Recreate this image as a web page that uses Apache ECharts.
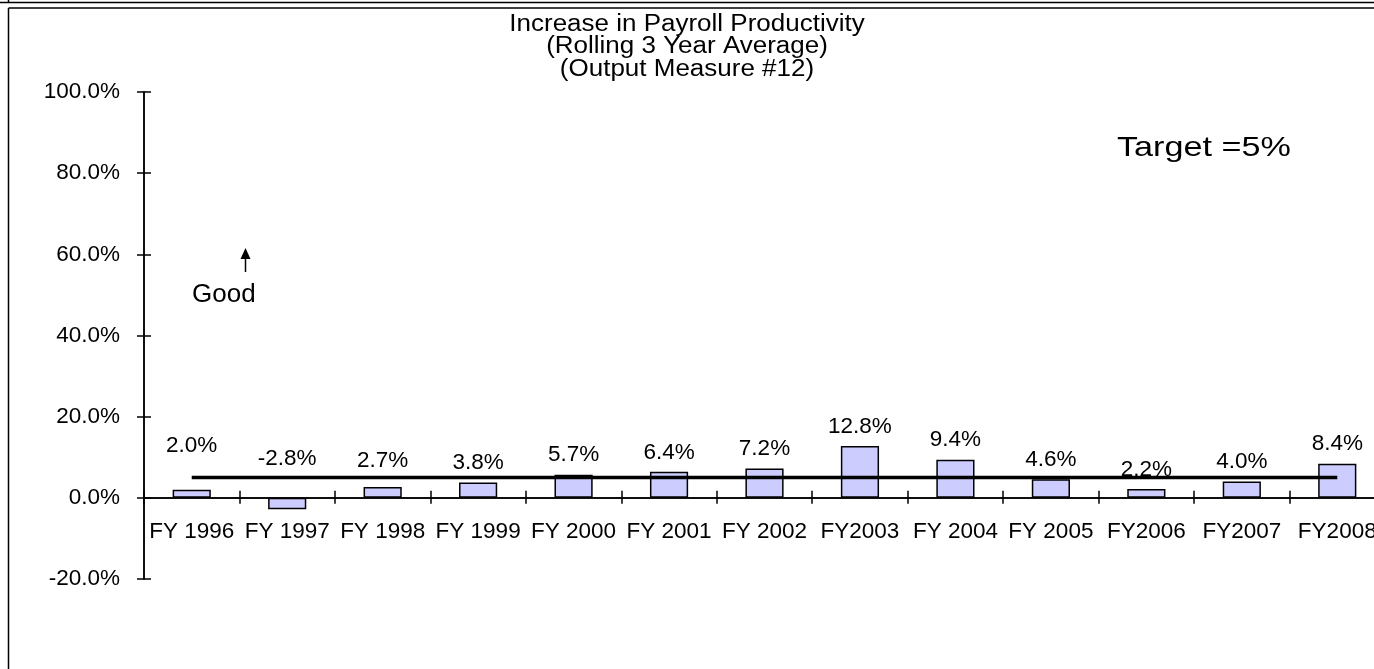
<!DOCTYPE html>
<html>
<head>
<meta charset="utf-8">
<script src="https://cdn.jsdelivr.net/npm/echarts@6/dist/echarts.min.js"></script>
<style>
  html, body { margin: 0; padding: 0; background: #ffffff; overflow: hidden; }
  /* the plot runs a little past the right edge of the window, so the canvas is wider */
  #chart { width: 1400px; height: 669px; }
</style>
</head>
<body>
<div id="chart"></div>
<script>
// Fiscal years on the category axis
const fiscalYears = ['FY 1996', 'FY 1997', 'FY 1998', 'FY 1999', 'FY 2000', 'FY 2001', 'FY 2002',
                     'FY2003', 'FY 2004', 'FY 2005', 'FY2006', 'FY2007', 'FY2008'];
// Rolling 3-year average increase in payroll productivity (%)
const productivityGain = [2.0, -2.8, 2.7, 3.8, 5.7, 6.4, 7.2, 12.8, 9.4, 4.6, 2.2, 4.0, 8.4];
// Target rate (%) for every year
const targetRate = [5, 5, 5, 5, 5, 5, 5, 5, 5, 5, 5, 5, 5];
// Value axis range and step (%)
const yMin = -20, yMax = 100, yStep = 20;

const FONT = 'Arial, "Liberation Sans", sans-serif';
const LABEL_SIZE = 22.5;
const pct = v => Number(v).toFixed(1) + '%';

// a few data labels sit higher above their bars than the rest
const labelGap = { 0: 32, 1: 28, 2: 15 };

const chart = echarts.init(document.getElementById('chart'), null, { renderer: 'canvas' });

const axisStroke = { color: '#000', width: 1.5 };
const valueAxisBase = {
  type: 'value', position: 'left', min: yMin, max: yMax, interval: yStep,
  splitLine: { show: false },
  axisLine: { show: true, lineStyle: axisStroke }
};
const catAxisBase = {
  type: 'category', position: 'bottom', data: fiscalYears, boundaryGap: true,
  splitLine: { show: false }
};

const option = {
  animation: false,
  backgroundColor: '#ffffff',
  textStyle: { fontFamily: FONT, color: '#000' },
  grid: { left: 144, top: 92, width: 1241, height: 487, containLabel: false },
  yAxis: [
    Object.assign({}, valueAxisBase, {
      axisTick: { show: true, length: 7, inside: false, lineStyle: axisStroke },
      axisLabel: { formatter: pct, margin: 24, fontSize: LABEL_SIZE, color: '#000', fontFamily: FONT }
    }),
    // twin axis carrying the inner half of the cross ticks
    Object.assign({}, valueAxisBase, {
      axisTick: { show: true, length: 7, inside: true, lineStyle: axisStroke },
      axisLabel: { show: false }
    })
  ],
  xAxis: [
    Object.assign({}, catAxisBase, {
      axisLine: { show: true, onZero: true, onZeroAxisIndex: 0, lineStyle: axisStroke },
      axisTick: { show: true, length: 6, inside: false, lineStyle: axisStroke },
      // category names sit just under the zero line, above the bottom of the plot
      axisLabel: { interval: 0, margin: -59, fontSize: LABEL_SIZE, color: '#000', fontFamily: FONT }
    }),
    // twin axis carrying the upper half of the cross ticks
    Object.assign({}, catAxisBase, {
      axisLine: { show: true, onZero: true, onZeroAxisIndex: 1, lineStyle: axisStroke },
      axisTick: { show: true, length: 7, inside: true, lineStyle: axisStroke },
      axisLabel: { show: false }
    })
  ],
  series: [
    {
      name: 'Productivity increase',
      type: 'bar',
      xAxisIndex: 0, yAxisIndex: 0,
      barWidth: '40%',
      z: 2,
      itemStyle: { color: '#ccccff', borderColor: '#000', borderWidth: 1.5 },
      data: productivityGain.map((v, i) => ({
        value: v,
        label: { distance: labelGap[i] !== undefined ? labelGap[i] : 8 }
      })),
      label: {
        show: true, position: 'top', formatter: p => pct(p.value),
        fontSize: LABEL_SIZE, color: '#000', fontFamily: FONT
      }
    },
    {
      name: 'Target',
      type: 'line',
      xAxisIndex: 0, yAxisIndex: 0,
      z: 5,
      symbol: 'none',
      lineStyle: { color: '#000', width: 3.5 },
      data: targetRate
    }
  ],
  graphic: [
    // frame: bottom edge of the box above, then the chart box
    { type: 'line', shape: { x1: 0, y1: 2.5, x2: 1400, y2: 2.5 }, style: { stroke: '#000', lineWidth: 1.5 } },
    { type: 'line', shape: { x1: 8.5, y1: 0, x2: 8.5, y2: 2.5 }, style: { stroke: '#000', lineWidth: 1.5 } },
    { type: 'line', shape: { x1: 8.5, y1: 8, x2: 1400, y2: 8 }, style: { stroke: '#000', lineWidth: 1.5 } },
    { type: 'line', shape: { x1: 8.5, y1: 8, x2: 8.5, y2: 669 }, style: { stroke: '#000', lineWidth: 1.5 } },
    // chart title, three centred lines
    { type: 'text', x: 687, y: 13, scaleX: 1.13, originX: 0,
      style: {
        text: 'Increase in Payroll Productivity\n(Rolling 3 Year Average)\n(Output Measure #12)',
        font: '23px ' + FONT, lineHeight: 22.5, fill: '#000',
        align: 'center', verticalAlign: 'top'
      } },
    // target note
    { type: 'text', x: 1117, y: 134, scaleX: 1.22, originX: 0,
      style: { text: 'Target =5%', font: '28px ' + FONT, fill: '#000', verticalAlign: 'top' } },
    // "Good" direction marker
    { type: 'line', shape: { x1: 245.5, y1: 258, x2: 245.5, y2: 272 }, style: { stroke: '#000', lineWidth: 1.5 } },
    { type: 'polygon', shape: { points: [[245.5, 248], [240.5, 259], [250.5, 259]] }, style: { fill: '#000' } },
    { type: 'text', left: 192, top: 282,
      style: { text: 'Good', font: '26px ' + FONT, fill: '#000' } }
  ]
};

chart.setOption(option);
</script>
</body>
</html>
